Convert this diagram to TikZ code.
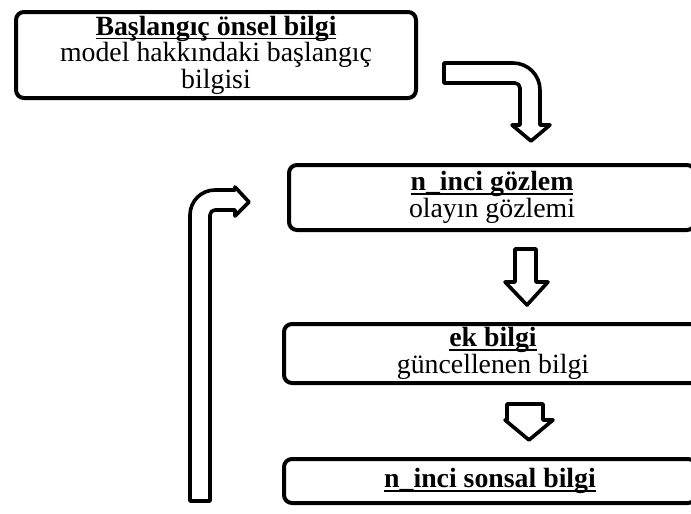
\documentclass[tikz,border=0pt]{standalone}
\usepackage{fontspec}
\setmainfont{Liberation Serif}
\usetikzlibrary{positioning}
\newcommand{\ulbf}[1]{\setbox0\hbox{\textbf{#1}}\rlap{\rule[-4pt]{\wd0}{1.6pt}}\box0}

\begin{document}
\begin{tikzpicture}[x=1pt,y=-1pt]
    \tikzset{block/.style= {draw, rectangle, rounded corners=8pt, line width=4pt, align=center, inner sep=0pt,
                            font=\fontsize{27.8}{26.5}\selectfont},
             bigarrow/.style= {draw, fill=white, line width=3.6pt, line join=round},}

    \useasboundingbox (0,0) rectangle (691,514);
    \clip (0,0) rectangle (691,514);

    \node [block, minimum width=400pt, minimum height=86pt] (prior) at (216,55)
        {\ulbf{Başlangıç önsel bilgi}\\model hakkındaki başlangıç\\bilgisi};
    \node [block, minimum width=406pt, minimum height=65pt] (obs) at (492,197.5)
        {\ulbf{n\_inci gözlem}\\olayın gözlemi};
    \node [block, minimum width=418pt, minimum height=59pt] (extra) at (493,353.5)
        {\ulbf{ek bilgi}\\güncellenen bilgi};
    \node [block, minimum width=412pt, minimum height=44pt] (post) at (490,481)
        {\ulbf{n\_inci sonsal bilgi}};

    % prior -> observation
    \draw[bigarrow] (444,63) -- (513,63) arc (-90:0:27) -- (540,125) -- (550,125) -- (531,141)
        -- (512,125) -- (520,125) -- (520,88) arc (0:-90:5) -- (444,83) -- cycle;

    % observation -> extra, extra -> posterior
    \draw[bigarrow] (515,249) -- (536,249) -- (536,282) -- (548,282) -- (527,305)
        -- (505,282) -- (515,282) -- cycle;
    \draw[bigarrow] (507,404) -- (543,404) -- (543,420) -- (553,420) -- (529,440)
        -- (505,420) -- (507,420) -- cycle;

    % posterior back to the next observation
    \draw[bigarrow] (190,501) -- (190,215) arc (180:270:25) -- (235,190) -- (235,187) -- (249,202)
        -- (235,216) -- (235,210) -- (215,210) arc (270:180:5) -- (210,501) -- cycle;
\end{tikzpicture}
\end{document}
